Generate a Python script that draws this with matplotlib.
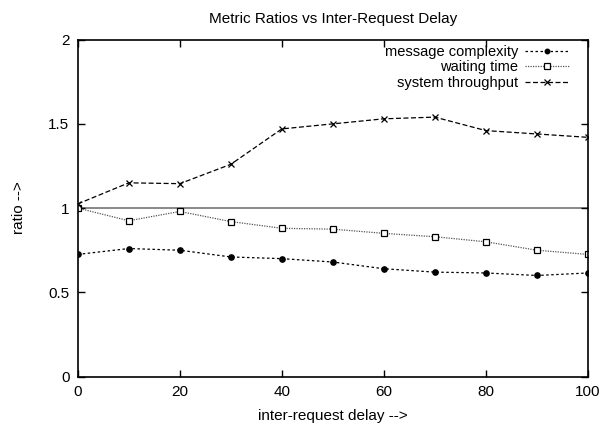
import matplotlib
matplotlib.use('Agg')
import matplotlib.pyplot as plt

# datos
delay = [0, 10, 20, 30, 40, 50, 60, 70, 80, 90, 100]
msg_complexity = [0.725, 0.76, 0.75, 0.71, 0.70, 0.68, 0.64, 0.62, 0.615, 0.60, 0.615]
waiting_time = [1.0, 0.925, 0.98, 0.92, 0.88, 0.875, 0.85, 0.83, 0.80, 0.75, 0.725]
throughput = [1.025, 1.15, 1.145, 1.26, 1.47, 1.50, 1.53, 1.54, 1.46, 1.44, 1.42]

plt.rcParams['font.family'] = ['Liberation Sans', 'DejaVu Sans']
plt.rcParams['font.size'] = 11

fig = plt.figure(figsize=(6.03, 4.26), dpi=100)
ax = fig.add_axes([0.129, 0.116, 0.846, 0.791])

ax.axhline(1, color='#7f7f7f', lw=1.3, zorder=1)
ax.plot(delay, msg_complexity, color='black', lw=0.9, ls=(0, (2, 2)),
        marker='o', ms=3.8, label='message complexity')
ax.plot(delay, waiting_time, color='#555555', lw=0.9, ls=(0, (1, 1)),
        marker='s', ms=4.5, mfc='white', mec='black', mew=0.9, label='waiting time')
ax.plot(delay, throughput, color='black', lw=0.9, ls=(0, (4, 2)),
        marker='x', ms=4.5, mew=0.9, label='system throughput')

ax.set_xlim(0, 100)
ax.set_ylim(0, 2)
ax.set_xticks([0, 20, 40, 60, 80, 100])
ax.set_yticks([0, 0.5, 1, 1.5, 2])
ax.set_yticklabels(['0', '0.5', '1', '1.5', '2'])
ax.tick_params(direction='in', top=True, right=True, length=5, width=1, pad=6)
for s in ax.spines.values():
    s.set_linewidth(1.2)

ax.set_title('Metric Ratios vs Inter-Request Delay', fontsize=11, pad=12)
ax.set_xlabel('inter-request delay -->', labelpad=7)
ax.set_ylabel('ratio -->', labelpad=16)

ax.legend(loc='upper right', bbox_to_anchor=(0.98, 1.01), frameon=False,
          markerfirst=False, handlelength=3, handletextpad=0.5,
          labelspacing=0.1, borderaxespad=0.2, fontsize=10.5, markerscale=0.85)
leg = ax.get_legend()
for t in leg.get_texts():
    t.set_ha('right')
leg._legend_box.align = 'right'

fig.savefig('out.png', dpi=100)
